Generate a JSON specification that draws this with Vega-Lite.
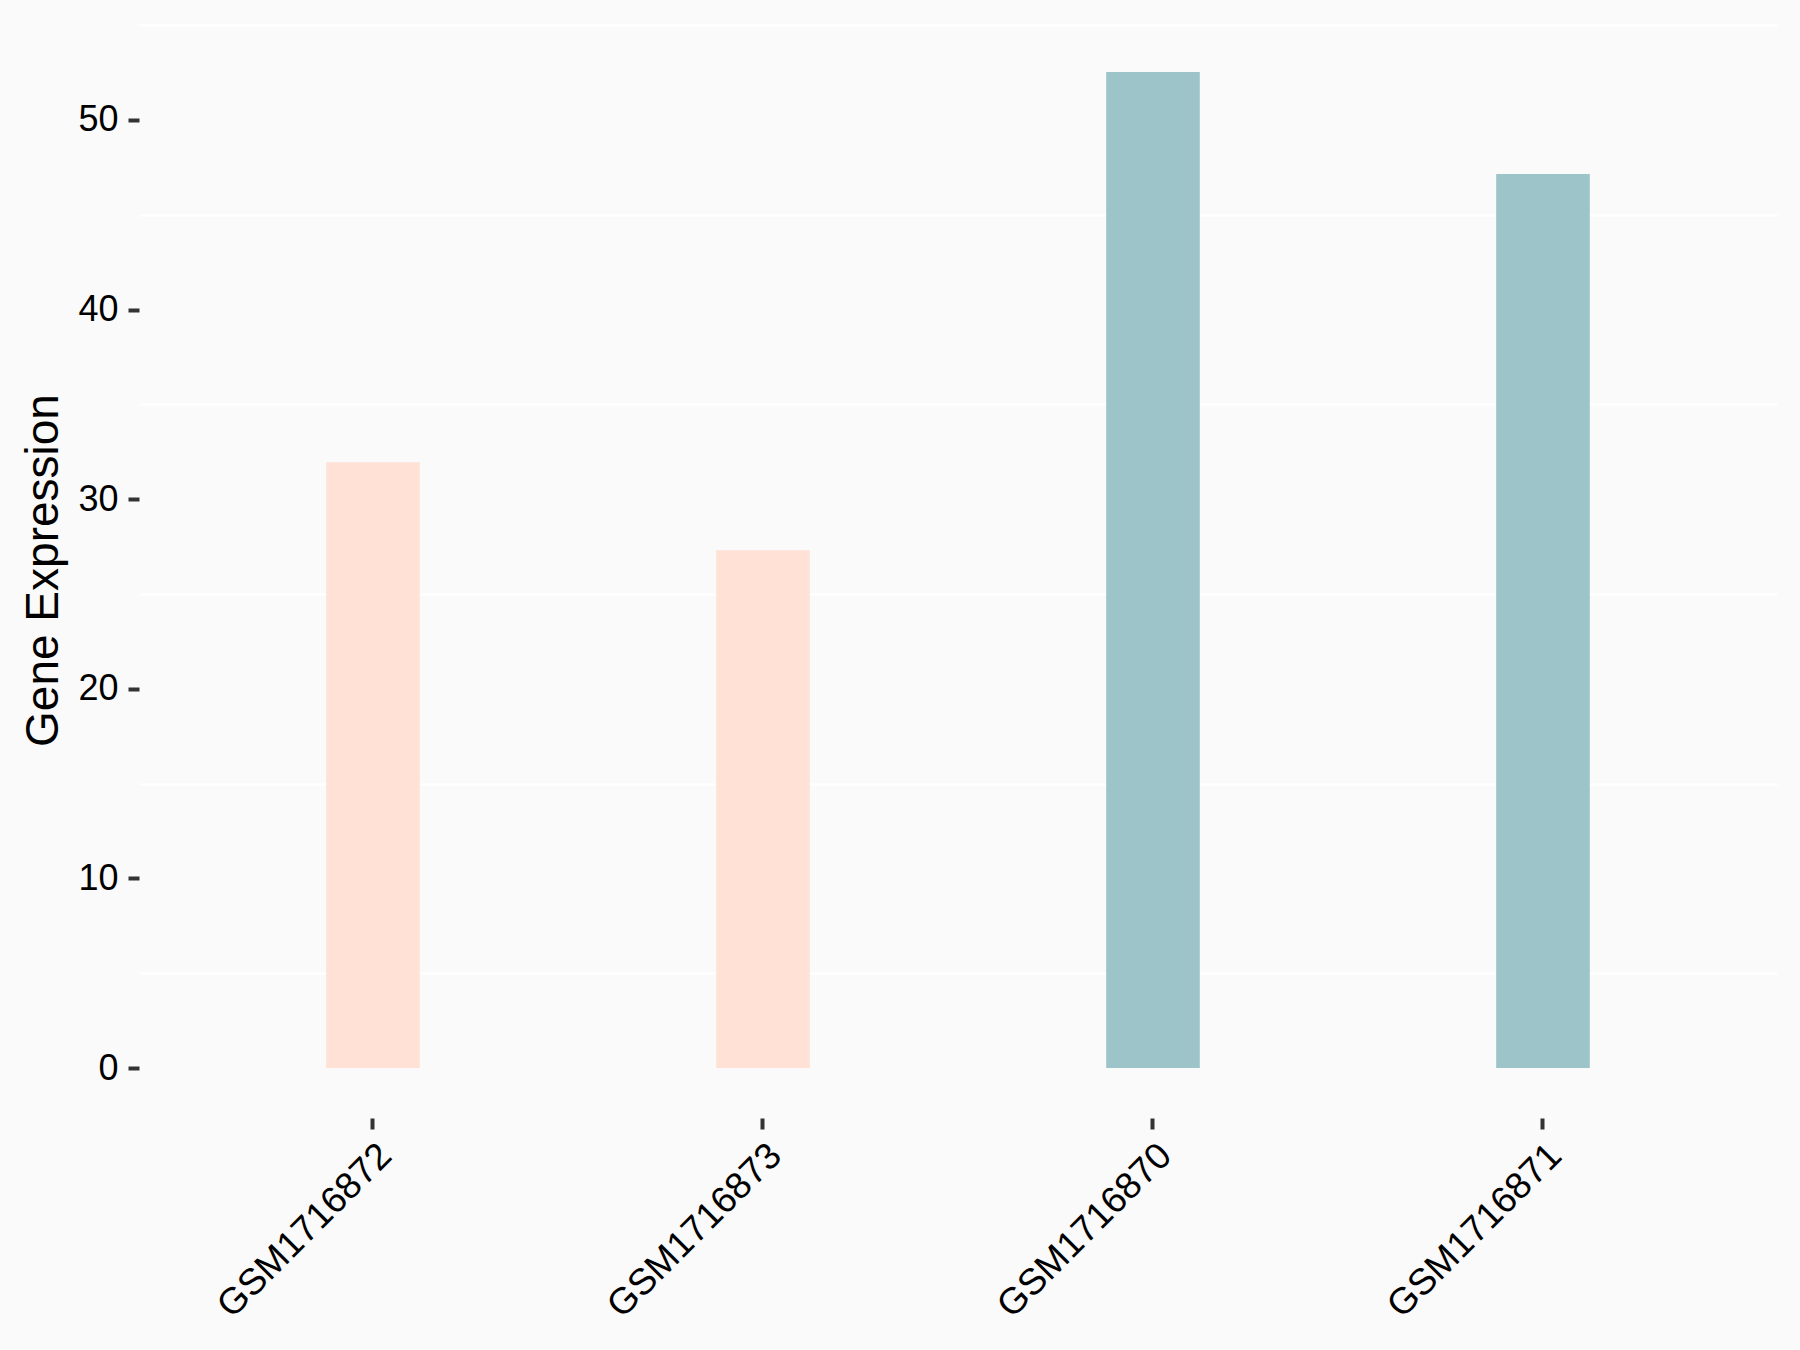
{
  "$schema": "https://vega.github.io/schema/vega-lite/v6.json",
  "autosize": {"type": "none"},
  "padding": {"left": 139, "top": 22, "right": 23, "bottom": 232},
  "width": 1638,
  "height": 1096,
  "background": "#FAFAFA",
  "config": {
    "view": {"stroke": null, "fill": "#FAFAFA"},
    "font": "Liberation Sans"
  },
  "data": {
    "values": [
      {"sample": "GSM1716872", "value": 31.95, "group": "A"},
      {"sample": "GSM1716873", "value": 27.31, "group": "A"},
      {"sample": "GSM1716870", "value": 52.53, "group": "B"},
      {"sample": "GSM1716871", "value": 47.14, "group": "B"}
    ]
  },
  "mark": {"type": "bar"},
  "encoding": {
    "x": {
      "field": "sample",
      "type": "nominal",
      "sort": null,
      "scale": {"paddingInner": 0.76, "paddingOuter": 0.48},
      "axis": {
        "title": null,
        "domain": false,
        "grid": false,
        "tickSize": 11,
        "tickWidth": 4,
        "tickColor": "#333333",
        "labelAngle": -45,
        "labelAlign": "right",
        "labelBaseline": "top",
        "labelFontSize": 37,
        "labelColor": "#000000",
        "labelPadding": 8,
        "labelLimit": 0
      }
    },
    "y": {
      "field": "value",
      "type": "quantitative",
      "scale": {"domain": [-2.63, 55.16], "nice": false, "zero": false},
      "axis": {
        "title": "Gene Expression",
        "titleFontSize": 46,
        "titleFontWeight": "normal",
        "titleColor": "#000000",
        "titleX": -82,
        "titleBaseline": "alphabetic",
        "values": [0, 5, 10, 15, 20, 25, 30, 35, 40, 45, 50, 55],
        "labelExpr": "datum.value % 10 === 0 ? datum.label : ''",
        "domain": false,
        "grid": true,
        "gridColor": "#FFFFFF",
        "gridWidth": 2,
        "gridOpacity": {"condition": {"test": "datum.value % 10 === 0", "value": 0}, "value": 1},
        "tickSize": 11,
        "tickWidth": 4,
        "tickColor": "#333333",
        "tickOpacity": {"condition": {"test": "datum.value % 10 === 0", "value": 1}, "value": 0},
        "labelFontSize": 36,
        "labelColor": "#000000",
        "labelPadding": 10
      }
    },
    "color": {
      "field": "group",
      "type": "nominal",
      "scale": {"domain": ["A", "B"], "range": ["#FFE1D6", "#9DC4C8"]},
      "legend": null
    }
  }
}
